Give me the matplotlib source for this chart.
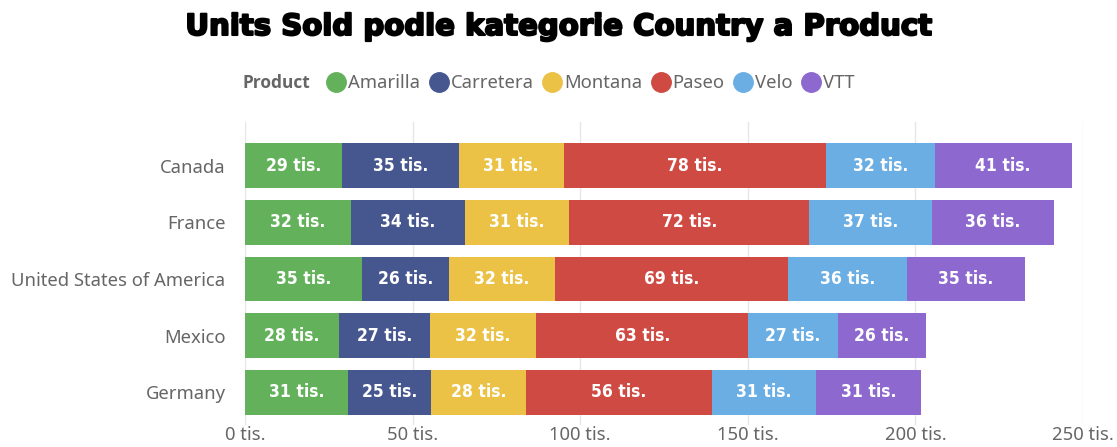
import numpy as np
import matplotlib
matplotlib.use("Agg")
import matplotlib.pyplot as plt
import matplotlib.patheffects as pe
from matplotlib.lines import Line2D

# Units sold (thousands) per country, stacked by product
countries = ["Germany", "Mexico", "United States of America", "France", "Canada"]
products = ["Amarilla", "Carretera", "Montana", "Paseo", "Velo", "VTT"]
amarilla = [30.6, 28.1, 35.0, 31.5, 28.9]
carretera = [25.0, 27.1, 25.8, 34.0, 34.8]
montana = [28.2, 31.6, 31.8, 31.3, 31.4]
paseo = [55.6, 63.4, 69.3, 71.6, 78.2]
velo = [31.0, 26.6, 35.7, 36.7, 32.4]
vtt = [31.4, 26.4, 35.0, 36.2, 41.0]
x_ticks = [0, 50, 100, 150, 200, 250]

colors = ["#63B25B", "#46568F", "#EBC245", "#CF4A43", "#6BAEE3", "#8D68CF"]
series = [amarilla, carretera, montana, paseo, velo, vtt]

fig = plt.figure(figsize=(11.17, 4.47), dpi=100)
W, H = 1117, 447
ax = fig.add_axes([245 / W, 1 - 425 / H, (1083 - 245) / W, (425 - 122) / H])

y = np.arange(len(countries))
left = np.zeros(len(countries))
for vals, col, name in zip(series, colors, products):
    vals = np.array(vals)
    bars = ax.barh(y, vals, left=left, height=0.79, color=col, label=name, zorder=2)
    for b, v in zip(bars, vals):
        ax.text(b.get_x() + b.get_width() / 2, b.get_y() + b.get_height() / 2,
                f"{round(v):.0f} tis.", ha="center", va="center", color="white",
                fontsize=12.5, fontweight="bold", fontstretch="condensed",
                family="DejaVu Sans", zorder=3)
    left += vals

ax.set_xlim(0, 250)
ax.set_ylim(-0.58, 4.77)
ax.set_xticks(x_ticks)
ax.set_xticklabels([f"{t} tis." for t in x_ticks])
ax.set_yticks(y)
ax.set_yticklabels(countries)
ax.tick_params(axis="both", length=0, labelsize=13.3, labelcolor="#666666")
ax.tick_params(axis="y", pad=14)
ax.tick_params(axis="x", pad=1)
for lab in ax.get_xticklabels() + ax.get_yticklabels():
    lab.set_family("Noto Sans")
ax.grid(axis="x", color="#e6e6e6", linewidth=1, zorder=0)
for s in ax.spines.values():
    s.set_visible(False)

title = fig.text(0.5, 1 - 27 / H, "Units Sold podle kategorie Country a Product",
                 ha="center", va="center", fontsize=21, fontweight="heavy",
                 family="DejaVu Sans", color="black")
title.set_path_effects([pe.withStroke(linewidth=1.5, foreground="black")])

fig.text(242 / W, 1 - 83 / H, "Product", ha="left", va="center",
         fontsize=12.5, fontweight="bold", color="#666666", family="Open Sans")
handles = [Line2D([], [], marker="o", linestyle="", markersize=14,
                  markerfacecolor=c, markeredgecolor=c) for c in colors]
fig.legend(handles, products, loc="center left",
           bbox_to_anchor=(326 / W, 1 - 83 / H), ncol=6, frameon=False,
           handletextpad=0.1, columnspacing=0.45, handlelength=1.1,
           prop={"family": "Noto Sans", "size": 13.3}, labelcolor="#666666",
           borderaxespad=0, borderpad=0)

fig.savefig("out.png", dpi=100)
